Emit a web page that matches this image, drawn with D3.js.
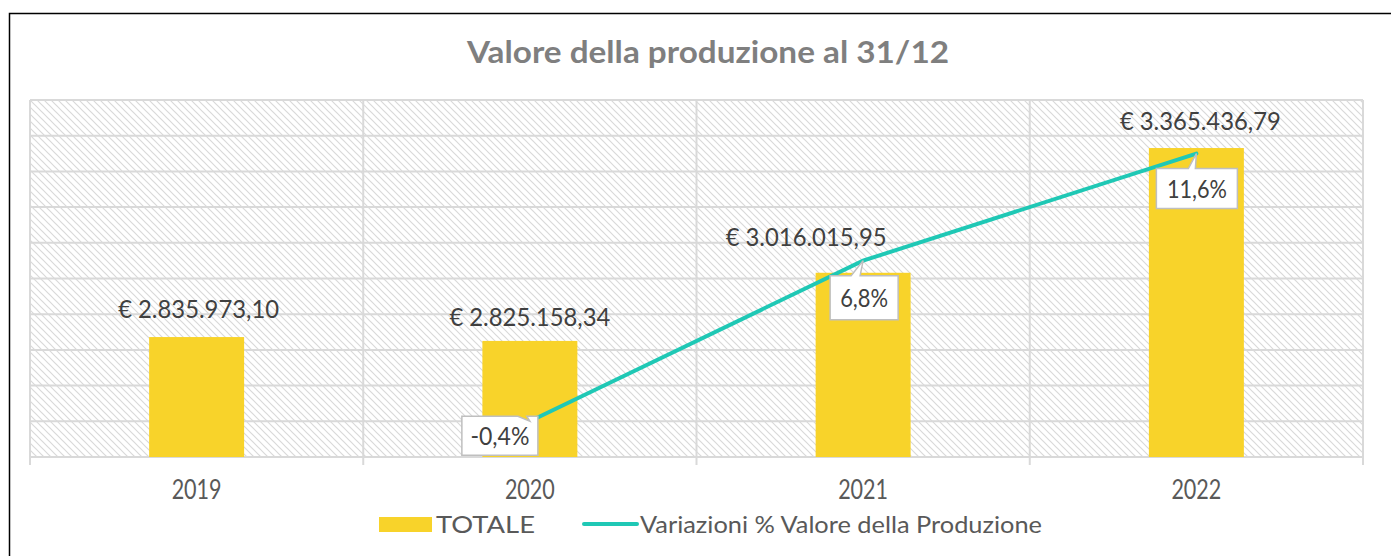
<!DOCTYPE html>
<html lang="it">
<head>
<meta charset="UTF-8">
<title>Valore della produzione al 31/12</title>
<style>
  body { margin: 0; background: #fff; }
  svg { display: block; font-family: 'Lato', 'Open Sans', sans-serif; }
</style>
</head>
<body>
<svg width="1391" height="556"></svg>
<script src="https://d3js.org/d3.v7.min.js"></script>
<script>
// dati
const anni = ["2019", "2020", "2021", "2022"];
const totale = [2835973.10, 2825158.34, 3016015.95, 3365436.79];
const totaleLabel = ["€ 2.835.973,10", "€ 2.825.158,34", "€ 3.016.015,95", "€ 3.365.436,79"];
const variazioni = [null, -0.4, 6.8, 11.6];
const variazioniLabel = [null, "-0,4%", "6,8%", "11,6%"];

const yellow = "#F8D32A", teal = "#1FC8B5", grid = "#d9d9d9";

const svg = d3.select("svg");
const pLeft = 30, pRight = 1363, pTop = 100, pBottom = 457;

// bordo esterno
svg.append("rect").attr("x", 9.5).attr("y", 13.5).attr("width", 1400).attr("height", 600)
  .attr("fill", "#fff").attr("stroke", "#000").attr("stroke-width", 1.5);

// pattern tratteggio
const pat = svg.append("defs").append("pattern")
  .attr("id", "hatch").attr("patternUnits", "userSpaceOnUse")
  .attr("width", 7).attr("height", 7);
pat.append("path").attr("d", "M0,0L7,7M-1,6L1,8M6,-1L8,1")
  .attr("stroke", "#d9d9d9").attr("stroke-width", 1.2);

const x = d3.scaleBand().domain(anni).range([pLeft, pRight]);
const y = d3.scaleLinear().domain([2500000, 3500000]).range([pBottom, pTop]);
const y2 = d3.scaleLinear().domain([-2, 14]).range([pBottom, pTop]);

svg.append("rect").attr("x", pLeft).attr("y", pTop)
  .attr("width", pRight - pLeft).attr("height", pBottom - pTop).attr("fill", "url(#hatch)");

// griglia
svg.append("g").selectAll("line").data(y.ticks(10)).join("line")
  .attr("x1", pLeft).attr("x2", pRight)
  .attr("y1", d => y(d)).attr("y2", d => y(d))
  .attr("stroke", grid).attr("stroke-width", 2);

const bounds = anni.map(a => x(a)).concat([pRight]);
svg.append("g").selectAll("line").data(bounds).join("line")
  .attr("x1", d => d).attr("x2", d => d)
  .attr("y1", pTop).attr("y2", pBottom + 8)
  .attr("stroke", grid).attr("stroke-width", 2);

// barre
const bw = x.bandwidth() * 0.285;
svg.append("g").selectAll("rect").data(totale).join("rect")
  .attr("x", (d, i) => x(anni[i]) + x.bandwidth() / 2 - bw / 2)
  .attr("y", d => y(d))
  .attr("width", bw)
  .attr("height", d => pBottom - y(d))
  .attr("fill", yellow);

// asse x
svg.append("g").selectAll("text").data(anni).join("text")
  .attr("x", d => x(d) + x.bandwidth() / 2)
  .attr("y", 499)
  .attr("text-anchor", "middle")
  .attr("font-size", 26)
  .attr("fill", "#595959")
  .attr("textLength", 50).attr("lengthAdjust", "spacingAndGlyphs")
  .text(d => d);

// etichette valori
const labOff = [[2, -19], [0, -15], [-57, -27], [4, -18]];
svg.append("g").selectAll("text").data(totale).join("text")
  .attr("x", (d, i) => x(anni[i]) + x.bandwidth() / 2 + labOff[i][0])
  .attr("y", (d, i) => y(d) + labOff[i][1])
  .attr("text-anchor", "middle")
  .attr("font-size", 25)
  .attr("fill", "#404040")
  .attr("textLength", 161).attr("lengthAdjust", "spacingAndGlyphs")
  .text((d, i) => totaleLabel[i]);

// linea variazioni
const pts = variazioni.map((v, i) => ({v, i})).filter(d => d.v !== null);
const cx = d => x(anni[d.i]) + x.bandwidth() / 2;
svg.append("path").datum(pts)
  .attr("d", d3.line().x(cx).y(d => y2(d.v)))
  .attr("fill", "none").attr("stroke", teal).attr("stroke-width", 4)
  .attr("stroke-linecap", "round");

// callout: [dx, dy, w, h, notch1, notch2, textLength]
const box = {
  1: [-68, -5, 76, 39, -12, -3, 59],
  2: [-33, 15, 68, 44, -12, -3, 48],
  3: [-40, 15, 81, 40, -8, -1, 60]
};
const cg = svg.append("g").selectAll("g").data(pts).join("g");
cg.append("path")
  .attr("d", d => {
    const px = cx(d), py = y2(d.v), b = box[d.i];
    const x0 = px + b[0], y0 = py + b[1], w = b[2], h = b[3];
    const n1 = px + b[4], n2 = px + b[5];
    return `M${x0},${y0}L${n1},${y0}L${px},${py}L${n2},${y0}L${x0 + w},${y0}L${x0 + w},${y0 + h}L${x0},${y0 + h}Z`;
  })
  .attr("fill", "#fff").attr("stroke", "#bfbfbf").attr("stroke-width", 1.5);
cg.append("text")
  .attr("x", d => cx(d) + box[d.i][0] + box[d.i][2] / 2)
  .attr("y", d => y2(d.v) + box[d.i][1] + box[d.i][3] / 2 + 9)
  .attr("text-anchor", "middle").attr("font-size", 25).attr("fill", "#404040")
  .attr("textLength", d => box[d.i][6]).attr("lengthAdjust", "spacingAndGlyphs")
  .text(d => variazioniLabel[d.i]);

// titolo
svg.append("text").attr("x", 708).attr("y", 63).attr("text-anchor", "middle")
  .attr("font-size", 30).attr("font-weight", "bold").attr("fill", "#7f7f7f")
  .attr("textLength", 482).attr("lengthAdjust", "spacingAndGlyphs")
  .text("Valore della produzione al 31/12");

// legenda
const lg = svg.append("g");
lg.append("rect").attr("x", 379).attr("y", 517).attr("width", 53).attr("height", 15).attr("fill", yellow);
lg.append("text").attr("x", 436).attr("y", 533).attr("font-size", 24).attr("fill", "#595959")
  .attr("textLength", 99).attr("lengthAdjust", "spacingAndGlyphs").text("TOTALE");
lg.append("line").attr("x1", 584).attr("x2", 637).attr("y1", 524).attr("y2", 524)
  .attr("stroke", teal).attr("stroke-width", 4).attr("stroke-linecap", "round");
lg.append("text").attr("x", 640).attr("y", 533).attr("font-size", 24).attr("fill", "#595959")
  .attr("textLength", 402).attr("lengthAdjust", "spacingAndGlyphs")
  .text("Variazioni % Valore della Produzione");
</script>
</body>
</html>
